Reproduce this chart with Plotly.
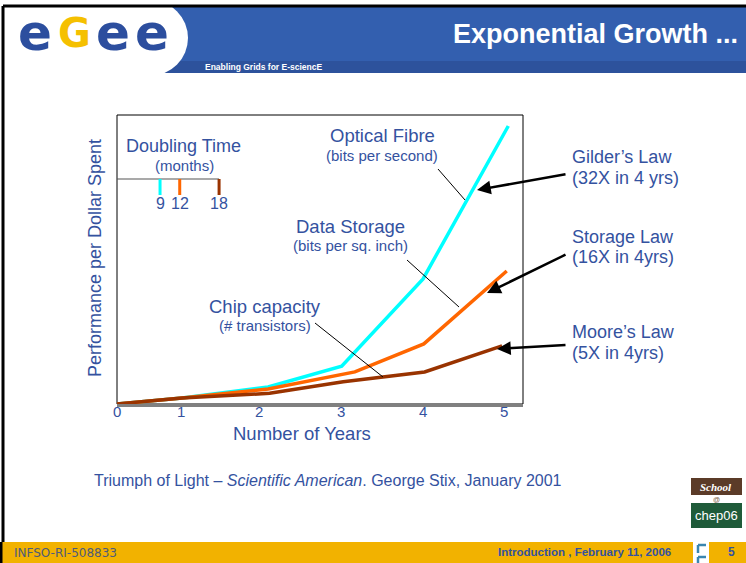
import plotly.graph_objects as go

# ---------------- data ----------------
years_fibre = [0, 0.84, 1.95, 2.90, 3.95, 5.05]
fibre = [0, 2.1, 5.9, 13.1, 43.3, 96.2]
years_storage = [0, 0.84, 1.95, 3.07, 3.96, 5.03]
storage = [0, 2.1, 5.2, 11.1, 20.8, 46.0]
years_chip = [0, 0.84, 1.97, 2.92, 3.97, 4.97]
chip = [0, 2.1, 3.7, 7.7, 11.1, 20.1]

tick_positions = [0, 0.83, 1.83, 2.89, 3.95, 4.99]
tick_labels = ["0", "1", "2", "3", "4", "5"]

doubling_months = [9, 12, 18]
series_colors = ["#00FFFF", "#FF6600", "#993300"]

law_titles = ["Gilder\u2019s Law", "Storage Law", "Moore\u2019s Law"]
law_rates = ["(32X in 4 yrs)", "(16X in 4yrs)", "(5X in 4yrs)"]

BLUE = "#34529F"
FONT = "Liberation Sans, Arial, sans-serif"

# ---------------- geometry helpers (pixel -> paper) ----------------
W, H = 746, 563
L, T, PW, PH = 117, 115, 406, 289


def px(x):
    return (x - L) / PW


def py(y):
    return (T + PH - y) / PH


fig = go.Figure()
for xs, ys, c in [(years_fibre, fibre, series_colors[0]),
                  (years_storage, storage, series_colors[1]),
                  (years_chip, chip, series_colors[2])]:
    fig.add_trace(go.Scatter(x=xs, y=ys, mode="lines",
                             line=dict(color=c, width=3.5),
                             hoverinfo="skip", showlegend=False))

shapes = []
annotations = []


def rect(x0, y0, x1, y1, color, layer="above"):
    shapes.append(dict(type="rect", xref="paper", yref="paper",
                       x0=px(x0), x1=px(x1), y0=py(y1), y1=py(y0),
                       fillcolor=color, line=dict(width=0), layer=layer))


def line(x0, y0, x1, y1, color, width, layer="above"):
    shapes.append(dict(type="line", xref="paper", yref="paper",
                       x0=px(x0), x1=px(x1), y0=py(y0), y1=py(y1),
                       line=dict(color=color, width=width), layer=layer))


def text(t, x, y, size, color=BLUE, anchor="center", family=FONT, angle=0, yanchor="middle"):
    annotations.append(dict(text=t, xref="paper", yref="paper", x=px(x), y=py(y),
                            xanchor=anchor, yanchor=yanchor, showarrow=False,
                            textangle=angle,
                            font=dict(size=size, color=color, family=family)))


# ---------------- header ----------------
rect(112, 7, 746, 73, "#335FAF")
rect(112, 61, 746, 73, "#2D529C")
shapes.append(dict(type="circle", xref="paper", yref="paper",
                   x0=px(112), x1=px(188), y0=py(76), y1=py(0),
                   fillcolor="white", line=dict(width=0)))
rect(0, 0, 150, 76, "white")
line(3, 6, 746, 6, "black", 3)
line(3, 6, 3, 563, "black", 3)

# egee logo
logo = [("e", 35, "#2C4E9E", 50), ("G", 74, "#F5C000", 40),
        ("e", 113, "#2C4E9E", 50), ("e", 152, "#2C4E9E", 50)]
for ch, x, col, s in logo:
    text("<b>%s</b>" % ch, x, 33, s, color=col, family="DejaVu Sans, sans-serif")

text("<b>Enabling Grids for E-sciencE</b>", 203, 67, 8.5, color="white", anchor="left")
text("<b>Exponential Growth ...</b>", 740, 34, 27, color="white", anchor="right")

# ---------------- footer ----------------
rect(0, 542, 746, 563, "#F2B200")
line(1, 542, 1, 563, "black", 3)
text("INFSO-RI-508833", 12, 553, 12, color="#4E5B7A", anchor="left",
     family="DejaVu Sans, Verdana, sans-serif")
text("<b>Introduction , February 11, 2006</b>", 673, 552, 11.5, color=BLUE, anchor="right")
text("<b>5</b>", 731, 552, 12, color=BLUE)
rect(693, 542, 709, 563, "#FFFFFF")
line(698, 545, 698, 553, "#3A86B0", 2.5)
line(698, 545, 706, 545, "#3A86B0", 2.5)
line(698, 557, 698, 563, "#3A86B0", 2.5)
line(698, 557, 706, 557, "#3A86B0", 2.5)

# School @ chep06 logo
rect(691, 478, 742, 495, "#5B3B28")
rect(691, 503, 742, 528, "#1F5B3A")
text("<b><i>School</i></b>", 716, 487, 11, color="white",
     family="Liberation Serif, serif")
text("@", 716, 499, 7, color="#7A5A40")
text("chep06", 716, 515, 13, color="white", family="Liberation Sans, sans-serif")

# ---------------- chart frame ----------------
shapes.append(dict(type="rect", xref="paper", yref="paper", x0=0, x1=1, y0=0, y1=1,
                   line=dict(color="black", width=1), layer="below"))

# x tick labels placed on the library's x scale
for tv, tl in zip(tick_positions, tick_labels):
    annotations.append(dict(text=tl, xref="x", yref="paper", x=tv, y=py(411),
                            xanchor="center", yanchor="middle", showarrow=False,
                            font=dict(size=15, color=BLUE, family=FONT)))

# doubling-time key (months mapped linearly onto the key's bar)
key_y = 179
line(117, key_y, 219, key_y, "#555555", 1.2)
for m, c in zip(doubling_months, series_colors):
    kx = 101 + 6.56 * m
    line(kx, key_y, kx, 195, c, 3)
    text(str(m), kx, 203, 16)
text("Doubling Time", 183, 146, 18)
text("(months)", 184, 165, 15)

# series labels and leader lines
text("Optical Fibre", 382, 135, 18.5)
text("(bits per second)", 382, 155, 15)
text("Data Storage", 350, 226, 18.5)
text("(bits per sq. inch)", 350, 245, 15)
text("Chip capacity", 265, 306, 18.5)
text("(# transistors)", 265, 325, 15)
line(438, 169, 465, 200, "black", 1)
line(407, 260, 459, 307, "black", 1)
line(315, 323, 383, 377, "black", 1)

# law labels with arrows
law_y = [(157, 178), (237, 257), (332, 353)]
for t1, t2, (y1, y2) in zip(law_titles, law_rates, law_y):
    text(t1, 570, y1, 18, anchor="left")
    text(t2, 570, y2, 18, anchor="left")

arrow_heads = [(477, 190, 567, 174), (487, 293, 567, 254), (497, 349, 567, 345)]
for hx, hy, tx, ty in arrow_heads:
    annotations.append(dict(text="", xref="paper", yref="paper", x=px(hx), y=py(hy),
                            ax=tx - hx, ay=ty - hy, showarrow=True, arrowhead=2,
                            arrowsize=1.1, arrowwidth=2.5, arrowcolor="black"))

# axis titles and citation
text("Number of Years", 302, 433, 18.5)
text("Performance per Dollar Spent", 95, 258, 18, angle=-90)
text("Triumph of Light \u2013 <i>Scientific American</i>. George Stix, January 2001",
     92, 481, 16, anchor="left")

fig.update_layout(
    width=W, height=H,
    margin=dict(l=L, r=W - L - PW, t=T, b=H - T - PH),
    paper_bgcolor="white", plot_bgcolor="white",
    showlegend=False,
    shapes=shapes, annotations=annotations,
    xaxis=dict(range=[0, 5.24], showticklabels=False,
               showgrid=False, zeroline=False, showline=True,
               linecolor="#808080", linewidth=3, ticks="", fixedrange=True),
    yaxis=dict(range=[0, 100], showticklabels=False, showgrid=False,
               zeroline=False, showline=False, fixedrange=True),
)

fig.write_html("out.html", config={"displayModeBar": False},
               post_script="document.body.style.margin='0';document.body.style.overflow='hidden';")
